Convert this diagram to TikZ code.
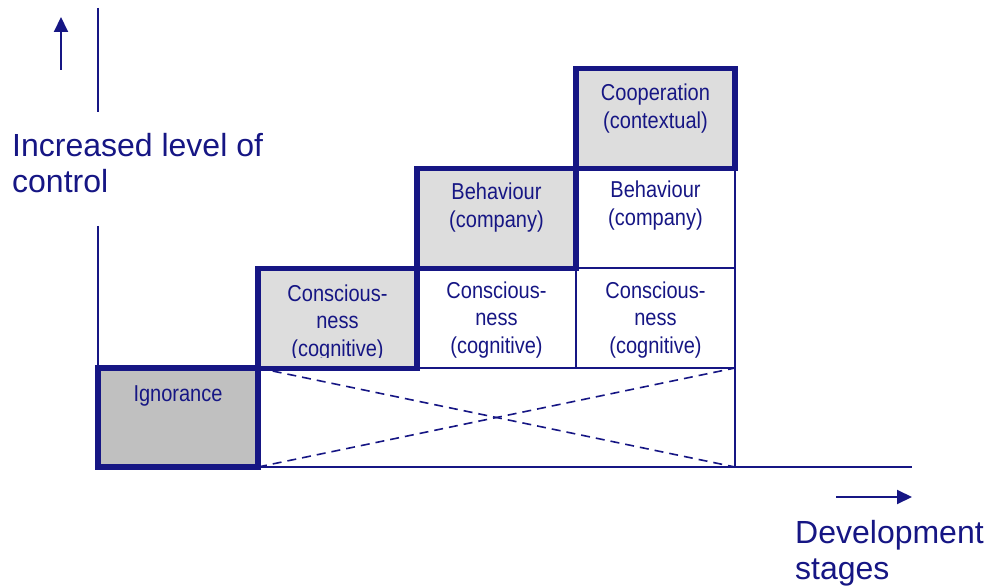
\documentclass[tikz,border=0pt]{standalone}
\usepackage{fontspec}
\setmainfont{Liberation Sans}
\newfontfamily\boxfont[FakeStretch=0.87]{Liberation Sans}
\usetikzlibrary{arrows.meta}
\definecolor{navy}{RGB}{22,22,132}
\definecolor{greyA}{RGB}{192,192,192}
\definecolor{greyB}{RGB}{221,221,221}
\begin{document}
\begin{tikzpicture}[x=1pt,y=-1pt,
  cell/.style={draw=navy, line width=2pt, inner sep=0pt, outer sep=0pt,
    minimum width=159pt, minimum height=100pt, anchor=north west},
  stage/.style={cell, line width=5.5pt},
  axis/.style={draw=navy, line width=2pt},
  arr/.style={draw=navy, line width=2pt, -{Triangle[length=15pt,width=14pt]}},
  diag/.style={draw=navy, line width=1.6pt, dash pattern=on 9pt off 6pt},
  axislabel/.style={font=\fontsize{32}{36}\selectfont, text=navy, align=left,
    inner sep=0pt, anchor=base west},
  boxtext/.style={font=\boxfont\fontsize{23}{27.5}\selectfont, text=navy,
    align=center, inner sep=0pt, anchor=base}]
\useasboundingbox (0,0) rectangle (988,588);

% axes
\coordinate (yTop) at (98,8);
\coordinate (yGapA) at (98,112);
\coordinate (yGapB) at (98,226);
\coordinate (origin) at (98,467);
\coordinate (xEnd) at (912,467);
\draw[axis] (yTop) -- (yGapA);
\draw[axis] (yGapB) -- (origin) -- (xEnd);

% direction arrows
\coordinate (upTail) at (61,70);
\coordinate (upTip) at (61,17);
\draw[arr] (upTail) -- (upTip);
\coordinate (rtTail) at (836,497);
\coordinate (rtTip) at (912,497);
\draw[arr] (rtTail) -- (rtTip);

% axis labels (anchored at the baseline of the last line)
\node[axislabel] (ylab) at (12,193) {Increased level of\\control};
\node[axislabel] (xlab) at (795,579) {Development\\stages};

% plain cells
\node[cell, minimum width=477pt, minimum height=99pt] (void) at (258,368) {};
\draw[diag] (void.north west) -- (void.south east);
\draw[diag] (void.south west) -- (void.north east);
\node[cell] (con2) at (417,268) {};
\node[cell] (con3) at (576,268) {};
\node[cell] (beh3) at (576,168) {};

% stages reached at each step
\node[stage, fill=greyA, minimum width=160pt, minimum height=99pt] (ign) at (98,368) {};
\node[stage, fill=greyB] (con1) at (258,268.5) {};
\node[stage, fill=greyB] (beh2) at (417,168.5) {};
\node[stage, fill=greyB] (coop) at (576,68.5) {};

% cell texts (anchored at the baseline of the last line)
\node[boxtext] (tign) at (178,401) {Ignorance};
\begin{scope}
  \clip (258,269) rectangle (417,357);
  \node[boxtext] (tcon1) at (337.5,356) {Conscious-\\ness\\(cognitive)};
\end{scope}
\node[boxtext] (tcon2) at (496.5,353) {Conscious-\\ness\\(cognitive)};
\node[boxtext] (tcon3) at (655.5,353) {Conscious-\\ness\\(cognitive)};
\node[boxtext] (tbeh2) at (496.5,227.5) {Behaviour\\(company)};
\node[boxtext] (tbeh3) at (655.5,225.5) {Behaviour\\(company)};
\node[boxtext] (tcoop) at (655.5,128.5) {Cooperation\\(contextual)};
\end{tikzpicture}
\end{document}
